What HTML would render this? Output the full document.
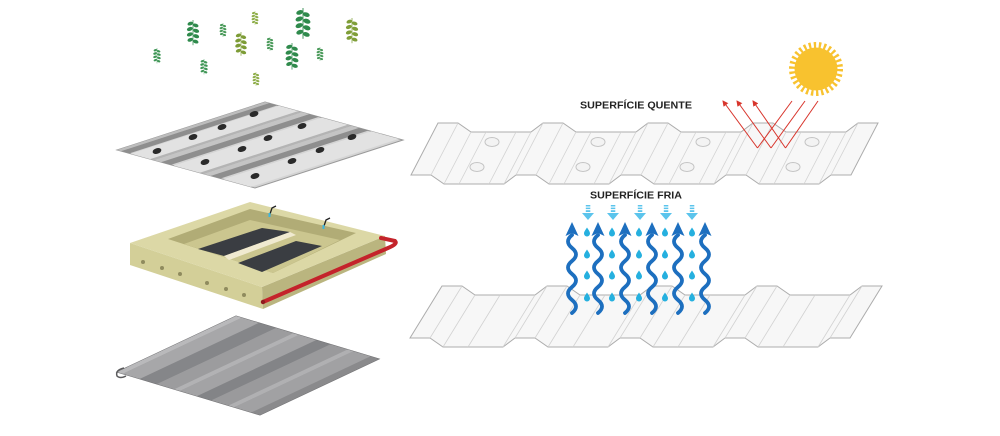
<!DOCTYPE html>
<html><head><meta charset="utf-8"><style>
html,body{margin:0;padding:0;background:#fff;}
svg{display:block;}
</style></head><body>
<svg width="1000" height="436" viewBox="0 0 1000 436" xmlns="http://www.w3.org/2000/svg">
<defs>
<g id="sprig">
<rect x="-0.4" y="0" width="0.8" height="28"/>
<ellipse cx="-3" cy="4" rx="3.2" ry="2" transform="rotate(-20 -3 4)"/>
<ellipse cx="-3.5" cy="10" rx="3.4" ry="2.1" transform="rotate(-20 -3.5 10)"/>
<ellipse cx="-3.5" cy="16" rx="3.4" ry="2.1" transform="rotate(-20 -3.5 16)"/>
<ellipse cx="-3" cy="22" rx="3.2" ry="2" transform="rotate(-20 -3 22)"/>
<ellipse cx="3" cy="6" rx="3.2" ry="2" transform="rotate(20 3 6)"/>
<ellipse cx="3.5" cy="12" rx="3.4" ry="2.1" transform="rotate(20 3.5 12)"/>
<ellipse cx="3.5" cy="18" rx="3.4" ry="2.1" transform="rotate(20 3.5 18)"/>
<ellipse cx="3" cy="24" rx="3.2" ry="2" transform="rotate(20 3 24)"/>
</g>
<path id="drop" d="M0,-4.5 C1.2,-2.5 3,-0.5 3,1.5 A3,3 0 0 1 -3,1.5 C-3,-0.5 -1.2,-2.5 0,-4.5Z"/>
<marker id="ah" markerWidth="6" markerHeight="6" refX="5" refY="3" orient="auto" markerUnits="userSpaceOnUse"><path d="M0,0 L6,3 L0,6 Z" fill="#d8352c"/></marker>
</defs>

<!-- plants -->
<use href="#sprig" transform="translate(193,20) scale(0.9)" fill="#2f8a4c"/>
<use href="#sprig" transform="translate(223,23) scale(0.5)" fill="#4a9a5a"/>
<use href="#sprig" transform="translate(255,11) scale(0.5)" fill="#8fae4a"/>
<use href="#sprig" transform="translate(241,32) scale(0.85)" fill="#7d9c36"/>
<use href="#sprig" transform="translate(303,8) scale(1.1)" fill="#2f8a4c"/>
<use href="#sprig" transform="translate(352,18) scale(0.9)" fill="#7f9e38"/>
<use href="#sprig" transform="translate(157,48) scale(0.55)" fill="#3f9656"/>
<use href="#sprig" transform="translate(270,37) scale(0.5)" fill="#4a9a5a"/>
<use href="#sprig" transform="translate(292,43) scale(0.95)" fill="#2f8a4c"/>
<use href="#sprig" transform="translate(320,47) scale(0.5)" fill="#4a9a5a"/>
<use href="#sprig" transform="translate(204,59) scale(0.55)" fill="#3f9656"/>
<use href="#sprig" transform="translate(256,72) scale(0.5)" fill="#8fae4a"/>

<!-- top-left perforated sheet -->
<g transform="matrix(1.48,-0.48,1.38,0.38,117,150)">
<rect x="0" y="0" width="100" height="100" fill="#d4d4d4" stroke="#9a9a9a" stroke-width="1" vector-effect="non-scaling-stroke"/>
<rect x="0" y="10" width="100" height="15" fill="#e2e2e2"/>
<rect x="0" y="41" width="100" height="19" fill="#e2e2e2"/>
<rect x="0" y="77" width="100" height="20" fill="#e2e2e2"/>
<rect x="0" y="0" width="100" height="3" fill="#bdbdbd"/>
<rect x="0" y="3" width="100" height="6" fill="#8e8e8e"/>
<rect x="0" y="24" width="100" height="3" fill="#b4b4b4"/>
<rect x="0" y="27" width="100" height="5" fill="#c4c4c4"/>
<rect x="0" y="32" width="100" height="7" fill="#8e8e8e"/>
<rect x="0" y="60" width="100" height="3" fill="#b4b4b4"/>
<rect x="0" y="63" width="100" height="5" fill="#c4c4c4"/>
<rect x="0" y="68" width="100" height="7" fill="#8e8e8e"/>
</g>
<g fill="#2a2a2a">
<ellipse cx="157" cy="151" rx="4.5" ry="2.8" transform="rotate(-17 157 151)"/>
<ellipse cx="193" cy="137" rx="4.5" ry="2.8" transform="rotate(-17 193 137)"/>
<ellipse cx="222" cy="127" rx="4.5" ry="2.8" transform="rotate(-17 222 127)"/>
<ellipse cx="254" cy="114" rx="4.5" ry="2.8" transform="rotate(-17 254 114)"/>
<ellipse cx="205" cy="162" rx="4.5" ry="2.8" transform="rotate(-17 205 162)"/>
<ellipse cx="242" cy="149" rx="4.5" ry="2.8" transform="rotate(-17 242 149)"/>
<ellipse cx="268" cy="138" rx="4.5" ry="2.8" transform="rotate(-17 268 138)"/>
<ellipse cx="302" cy="126" rx="4.5" ry="2.8" transform="rotate(-17 302 126)"/>
<ellipse cx="255" cy="176" rx="4.5" ry="2.8" transform="rotate(-17 255 176)"/>
<ellipse cx="292" cy="161" rx="4.5" ry="2.8" transform="rotate(-17 292 161)"/>
<ellipse cx="320" cy="150" rx="4.5" ry="2.8" transform="rotate(-17 320 150)"/>
<ellipse cx="352" cy="137" rx="4.5" ry="2.8" transform="rotate(-17 352 137)"/>
</g>

<!-- yellow slab -->
<polygon points="130,243 262,287 263,309 130,265" fill="#d3cf98"/>
<polygon points="262,287 385,236 386,254 263,309" fill="#bab57f"/>
<polygon points="130,243 250,202 385,236 262,287" fill="#dcd8a6"/>
<polygon points="168,239 250,209 356,233 273,273" fill="#b1ac76"/>
<polygon points="184,244 250,220 340,240 273,273" fill="#cbc68f"/>
<polygon points="198,249 262,228 290,232 224,256" fill="#3a3d42"/>
<polygon points="224,256 290,232 296,235 229,260" fill="#f0ead0"/>
<polygon points="238,263 296,241 322,246 262,272" fill="#3a3d42"/>
<path d="M270,214 L272,208 L276,206" stroke="#222" stroke-width="1.3" fill="none"/>
<rect x="268.5" y="213" width="2" height="4" fill="#3ab6e0"/>
<path d="M324,226 L326,220 L330,218" stroke="#222" stroke-width="1.3" fill="none"/>
<rect x="322.5" y="225" width="2" height="4" fill="#3ab6e0"/>
<g fill="#8f8b5e">
<circle cx="143" cy="262" r="2"/><circle cx="162" cy="268" r="2"/><circle cx="180" cy="274" r="2"/>
<circle cx="207" cy="283" r="2"/><circle cx="226" cy="289" r="2"/><circle cx="244" cy="295" r="2"/>
</g>
<path d="M263,302 L388,248 Q398,244 395,241 L381,238" stroke="#c4232b" stroke-width="4" fill="none" stroke-linecap="round"/>
<circle cx="263" cy="302" r="2.2" fill="#8e1a1e"/>

<!-- bottom-left solid sheet -->
<g transform="matrix(1.19,-0.56,1.43,0.43,117,372)">
<rect x="0" y="0" width="100" height="100" fill="#9c9c9e" stroke="#707072" stroke-width="1" vector-effect="non-scaling-stroke"/>
<rect x="0" y="0" width="100" height="4" fill="#b9b9bb"/>
<rect x="0" y="4" width="100" height="12" fill="#a7a7a9"/>
<rect x="0" y="16" width="100" height="12" fill="#858689"/>
<rect x="0" y="28" width="100" height="12" fill="#9c9c9e"/>
<rect x="0" y="40" width="100" height="4" fill="#b2b2b4"/>
<rect x="0" y="44" width="100" height="12" fill="#a3a3a5"/>
<rect x="0" y="56" width="100" height="10" fill="#838487"/>
<rect x="0" y="66" width="100" height="12" fill="#9a9a9c"/>
<rect x="0" y="78" width="100" height="4" fill="#b0b0b2"/>
<rect x="0" y="82" width="100" height="12" fill="#a1a1a3"/>
<rect x="0" y="94" width="100" height="6" fill="#8a8a8c"/>
</g>
<path d="M124,368 Q115,370 117,376 Q120,379 126,376" stroke="#5a5a5c" stroke-width="1.5" fill="none"/>

<!-- top-right sheet -->
<polygon points="438,123 458,123 471,132 531,132 543,123 563,123 576,132 636,132 648,123 668,123 681,132 741,132 753,123 773,123 786,132 846,132 858,123 878,123 851,175 831,175 819,184 759,184 746,175 726,175 714,184 654,184 641,175 621,175 609,184 549,184 536,175 516,175 504,184 444,184 431,175 411,175" fill="#f7f7f7" stroke="#acacac" stroke-width="1"/>
<g stroke="#d2d2d2" stroke-width="0.8">
<line x1="458" y1="123" x2="431" y2="175"/><line x1="471" y1="132" x2="444" y2="184"/>
<line x1="531" y1="132" x2="504" y2="184"/><line x1="543" y1="123" x2="516" y2="175"/>
<line x1="563" y1="123" x2="536" y2="175"/><line x1="576" y1="132" x2="549" y2="184"/>
<line x1="636" y1="132" x2="609" y2="184"/><line x1="648" y1="123" x2="621" y2="175"/>
<line x1="668" y1="123" x2="641" y2="175"/><line x1="681" y1="132" x2="654" y2="184"/>
<line x1="741" y1="132" x2="714" y2="184"/><line x1="753" y1="123" x2="726" y2="175"/>
<line x1="773" y1="123" x2="746" y2="175"/><line x1="786" y1="132" x2="759" y2="184"/>
<line x1="846" y1="132" x2="819" y2="184"/><line x1="858" y1="123" x2="831" y2="175"/>
<line x1="486" y1="132" x2="459" y2="184"/><line x1="516" y1="132" x2="489" y2="184"/>
<line x1="591" y1="132" x2="564" y2="184"/><line x1="621" y1="132" x2="594" y2="184"/>
<line x1="696" y1="132" x2="669" y2="184"/><line x1="726" y1="132" x2="699" y2="184"/>
<line x1="801" y1="132" x2="774" y2="184"/><line x1="831" y1="132" x2="804" y2="184"/>
</g>
<g fill="#f3f3f3" stroke="#c4c4c4" stroke-width="1">
<ellipse cx="492" cy="142" rx="7" ry="4.5"/><ellipse cx="477" cy="167" rx="7" ry="4.5"/>
<ellipse cx="598" cy="142" rx="7" ry="4.5"/><ellipse cx="583" cy="167" rx="7" ry="4.5"/>
<ellipse cx="703" cy="142" rx="7" ry="4.5"/><ellipse cx="687" cy="167" rx="7" ry="4.5"/>
<ellipse cx="812" cy="142" rx="7" ry="4.5"/><ellipse cx="793" cy="167" rx="7" ry="4.5"/>
</g>

<!-- bottom-right sheet -->
<polygon points="442,286 462,286 475,295 535,295 547,286 567,286 580,295 640,295 652,286 672,286 685,295 745,295 757,286 777,286 790,295 850,295 862,286 882,286 850,338 830,338 818,347 758,347 745,338 725,338 713,347 653,347 640,338 620,338 608,347 548,347 535,338 515,338 503,347 443,347 430,338 410,338" fill="#f7f7f7" stroke="#acacac" stroke-width="1"/>
<g stroke="#d2d2d2" stroke-width="0.8">
<line x1="462" y1="286" x2="430" y2="338"/><line x1="475" y1="295" x2="443" y2="347"/>
<line x1="535" y1="295" x2="503" y2="347"/><line x1="547" y1="286" x2="515" y2="338"/>
<line x1="567" y1="286" x2="535" y2="338"/><line x1="580" y1="295" x2="548" y2="347"/>
<line x1="640" y1="295" x2="608" y2="347"/><line x1="652" y1="286" x2="620" y2="338"/>
<line x1="672" y1="286" x2="640" y2="338"/><line x1="685" y1="295" x2="653" y2="347"/>
<line x1="745" y1="295" x2="713" y2="347"/><line x1="757" y1="286" x2="725" y2="338"/>
<line x1="777" y1="286" x2="745" y2="338"/><line x1="790" y1="295" x2="758" y2="347"/>
<line x1="850" y1="295" x2="818" y2="347"/><line x1="862" y1="286" x2="830" y2="338"/>
<line x1="500" y1="295" x2="468" y2="347"/><line x1="605" y1="295" x2="573" y2="347"/>
<line x1="710" y1="295" x2="678" y2="347"/><line x1="815" y1="295" x2="783" y2="347"/>
</g>

<!-- sun -->
<circle cx="816" cy="69" r="23.5" fill="none" stroke="#f8c22f" stroke-width="7" stroke-dasharray="2.3 2.627"/>
<circle cx="816" cy="69" r="21.5" fill="#f8c22f"/>

<!-- red rays -->
<g stroke="#d8352c" stroke-width="1" fill="none">
<line x1="792" y1="101" x2="757.5" y2="148"/>
<line x1="805" y1="101" x2="771" y2="148"/>
<line x1="818" y1="101" x2="785.5" y2="148"/>
<line x1="757.5" y1="148" x2="723" y2="101" marker-end="url(#ah)"/>
<line x1="771" y1="148" x2="737" y2="101" marker-end="url(#ah)"/>
<line x1="785.5" y1="148" x2="753" y2="101" marker-end="url(#ah)"/>
</g>

<!-- labels -->
<text x="580" y="108.5" font-family="Liberation Sans, sans-serif" font-weight="bold" font-size="10.5" fill="#222" textLength="112" lengthAdjust="spacingAndGlyphs">SUPERFÍCIE QUENTE</text>
<text x="590" y="198.5" font-family="Liberation Sans, sans-serif" font-weight="bold" font-size="10.5" fill="#222" textLength="92" lengthAdjust="spacingAndGlyphs">SUPERFÍCIE FRIA</text>

<!-- light blue down arrows -->
<g fill="#5bc4ec">
<rect x="585.8" y="205" width="4.5" height="1.5"/><rect x="585.8" y="207.6" width="4.5" height="1.5"/><rect x="585.8" y="210.2" width="4.5" height="1.8"/><polygon points="582,213 594,213 588,220"/>
<rect x="610.8" y="205" width="4.5" height="1.5"/><rect x="610.8" y="207.6" width="4.5" height="1.5"/><rect x="610.8" y="210.2" width="4.5" height="1.8"/><polygon points="607,213 619,213 613,220"/>
<rect x="637.8" y="205" width="4.5" height="1.5"/><rect x="637.8" y="207.6" width="4.5" height="1.5"/><rect x="637.8" y="210.2" width="4.5" height="1.8"/><polygon points="634,213 646,213 640,220"/>
<rect x="663.8" y="205" width="4.5" height="1.5"/><rect x="663.8" y="207.6" width="4.5" height="1.5"/><rect x="663.8" y="210.2" width="4.5" height="1.8"/><polygon points="660,213 672,213 666,220"/>
<rect x="689.8" y="205" width="4.5" height="1.5"/><rect x="689.8" y="207.6" width="4.5" height="1.5"/><rect x="689.8" y="210.2" width="4.5" height="1.8"/><polygon points="686,213 698,213 692,220"/>
</g>

<!-- droplets -->
<g fill="#25b0df">
<use href="#drop" transform="translate(587,232)"/><use href="#drop" transform="translate(612,232)"/><use href="#drop" transform="translate(639,232)"/><use href="#drop" transform="translate(665,232)"/><use href="#drop" transform="translate(692,232)"/>
<use href="#drop" transform="translate(587,254)"/><use href="#drop" transform="translate(612,254)"/><use href="#drop" transform="translate(639,254)"/><use href="#drop" transform="translate(665,254)"/><use href="#drop" transform="translate(692,254)"/>
<use href="#drop" transform="translate(587,275)"/><use href="#drop" transform="translate(612,275)"/><use href="#drop" transform="translate(639,275)"/><use href="#drop" transform="translate(665,275)"/><use href="#drop" transform="translate(692,275)"/>
<use href="#drop" transform="translate(587,297)"/><use href="#drop" transform="translate(612,297)"/><use href="#drop" transform="translate(639,297)"/><use href="#drop" transform="translate(665,297)"/><use href="#drop" transform="translate(692,297)"/>
</g>

<!-- dark blue wavy arrows -->
<g stroke="#1d6fbf" stroke-width="3.8" fill="none" stroke-linecap="round">
<path d="M572,313 q8,-6.5 0,-13 q-8,-6.5 0,-13 q8,-6.5 0,-13 q-8,-6.5 0,-13 q8,-6.5 0,-13 q-8,-6.5 0,-13"/>
<path d="M598,313 q8,-6.5 0,-13 q-8,-6.5 0,-13 q8,-6.5 0,-13 q-8,-6.5 0,-13 q8,-6.5 0,-13 q-8,-6.5 0,-13"/>
<path d="M625,313 q8,-6.5 0,-13 q-8,-6.5 0,-13 q8,-6.5 0,-13 q-8,-6.5 0,-13 q8,-6.5 0,-13 q-8,-6.5 0,-13"/>
<path d="M652,313 q8,-6.5 0,-13 q-8,-6.5 0,-13 q8,-6.5 0,-13 q-8,-6.5 0,-13 q8,-6.5 0,-13 q-8,-6.5 0,-13"/>
<path d="M678,313 q8,-6.5 0,-13 q-8,-6.5 0,-13 q8,-6.5 0,-13 q-8,-6.5 0,-13 q8,-6.5 0,-13 q-8,-6.5 0,-13"/>
<path d="M705,313 q8,-6.5 0,-13 q-8,-6.5 0,-13 q8,-6.5 0,-13 q-8,-6.5 0,-13 q8,-6.5 0,-13 q-8,-6.5 0,-13"/>
</g>
<g fill="#1d6fbf">
<polygon points="572,222 578.5,236 572,233 565.5,236"/>
<polygon points="598,222 604.5,236 598,233 591.5,236"/>
<polygon points="625,222 631.5,236 625,233 618.5,236"/>
<polygon points="652,222 658.5,236 652,233 645.5,236"/>
<polygon points="678,222 684.5,236 678,233 671.5,236"/>
<polygon points="705,222 711.5,236 705,233 698.5,236"/>
</g>
</svg>
</body></html>
